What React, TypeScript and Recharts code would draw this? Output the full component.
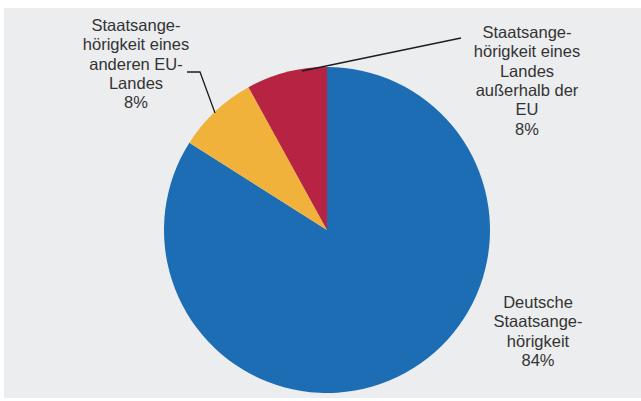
import { Cell, Pie, PieChart } from "recharts";

const categories = [
  "Deutsche Staatsangehörigkeit",
  "Staatsangehörigkeit eines anderen EU-Landes",
  "Staatsangehörigkeit eines Landes außerhalb der EU",
];
const shares = [84, 8, 8];
const labelTexts = [
  ["Deutsche", "Staatsange-", "hörigkeit"],
  ["Staatsange-", "hörigkeit eines", "anderen EU-", "Landes"],
  ["Staatsange-", "hörigkeit eines", "Landes", "außerhalb der", "EU"],
];
const colors = ["#1c6db4", "#f0b23a", "#b72342"];

const data = categories.map((name, i) => ({ name, value: shares[i], lines: labelTexts[i] }));

// label placement relative to pie centre (px)
const labelPos = [
  { x: 211, y: 72 },
  { x: -191, y: -205 },
  { x: 200, y: -198 },
];
// leader lines, relative to centre; null = none
const leaders: ([number, number][] | null)[] = [
  null,
  [
    [-112, -117],
    [-127, -158],
    [-140, -158],
  ],
  [
    [-25, -159],
    [134, -192],
  ],
];

const LINE_H = 19.3;

// eslint-disable-next-line @typescript-eslint/no-explicit-any
function renderLabel(props: any) {
  const { cx, cy, index, payload, value } = props;
  const pos = labelPos[index];
  const lines: string[] = [...(payload.lines ?? labelTexts[index]), `${value}%`];
  const lead = leaders[index];
  return (
    <g key={`lbl-${index}`}>
      {lead && (
        <polyline
          points={lead.map(([x, y]) => `${cx + x},${cy + y}`).join(" ")}
          fill="none"
          stroke="#1d1d1b"
          strokeWidth={1.3}
        />
      )}
      <text
        x={cx + pos.x}
        y={cy + pos.y}
        textAnchor="middle"
        dominantBaseline="central"
        fill="#333333"
        fontSize={16.5}
        fontFamily="'Liberation Sans', Arial, sans-serif"
      >
        {lines.map((l, i) => (
          <tspan key={i} x={cx + pos.x} dy={i === 0 ? 0 : LINE_H}>
            {l}
          </tspan>
        ))}
      </text>
    </g>
  );
}

export default function App() {
  return (
    <div style={{ position: "absolute", left: 0, top: 0, width: 641, height: 401, background: "#ffffff" }}>
      <div style={{ position: "absolute", left: 4, top: 8, width: 637, height: 390, background: "#ecedef" }} />
      <div style={{ position: "absolute", left: 0, top: 0 }}>
        <PieChart width={641} height={401} margin={{ top: 0, right: 0, bottom: 0, left: 0 }}>
          <Pie
            data={data}
            dataKey="value"
            nameKey="name"
            cx={327}
            cy={230}
            outerRadius={163}
            startAngle={90}
            endAngle={-270}
            stroke="none"
            label={renderLabel}
            labelLine={false}
            isAnimationActive={false}
          >
            {data.map((d, i) => (
              <Cell key={d.name} fill={colors[i]} />
            ))}
          </Pie>
        </PieChart>
      </div>
    </div>
  );
}
